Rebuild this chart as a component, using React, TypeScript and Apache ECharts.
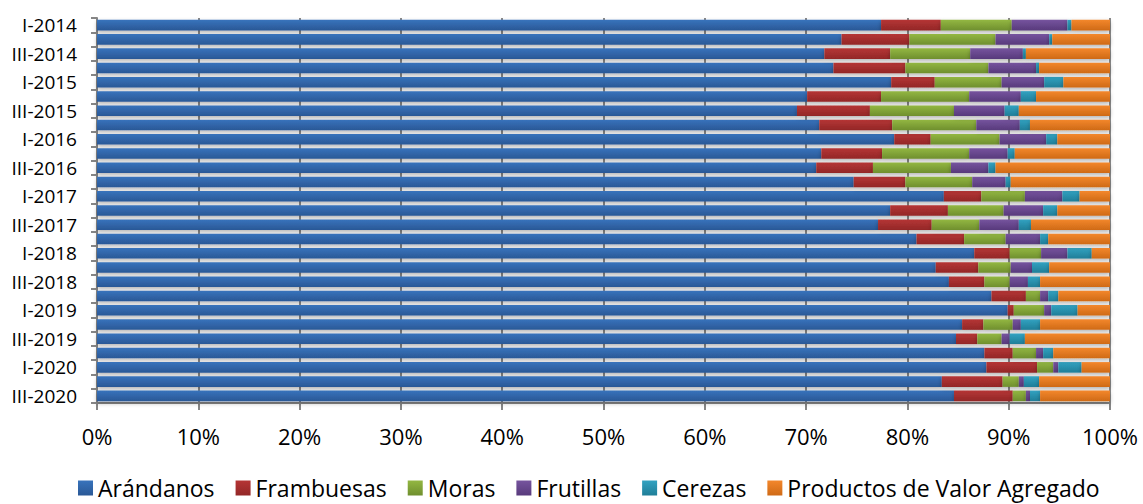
import React, { useEffect, useRef } from "react";
import * as echarts from "echarts";

const categories = [
  "I-2014", "II-2014", "III-2014", "IV-2014",
  "I-2015", "II-2015", "III-2015", "IV-2015",
  "I-2016", "II-2016", "III-2016", "IV-2016",
  "I-2017", "II-2017", "III-2017", "IV-2017",
  "I-2018", "II-2018", "III-2018", "IV-2018",
  "I-2019", "II-2019", "III-2019", "IV-2019",
  "I-2020", "II-2020", "III-2020",
];

const arandanos = [77.4, 73.5, 71.8, 72.7, 78.4, 70.1, 69.1, 71.3, 78.7, 71.5, 71.0, 74.7, 83.6, 78.3, 77.1, 80.9, 86.6, 82.8, 84.1, 88.3, 89.9, 85.4, 84.8, 87.6, 87.8, 83.4, 84.6];
const frambuesas = [5.9, 6.7, 6.5, 7.1, 4.3, 7.3, 7.2, 7.2, 3.6, 6.0, 5.6, 5.1, 3.7, 5.7, 5.3, 4.7, 3.5, 4.2, 3.5, 3.4, 0.6, 2.1, 2.1, 2.8, 5.0, 6.0, 5.8];
const moras = [7.0, 8.5, 7.9, 8.2, 6.6, 8.7, 8.3, 8.3, 6.8, 8.6, 7.7, 6.6, 4.3, 5.5, 4.7, 4.1, 3.1, 3.2, 2.5, 1.4, 3.0, 2.9, 2.4, 2.3, 1.6, 1.6, 1.3];
const frutillas = [5.5, 5.3, 5.2, 4.7, 4.2, 5.1, 5.0, 4.3, 4.6, 3.8, 3.7, 3.3, 3.7, 3.9, 3.9, 3.4, 2.6, 2.1, 1.8, 0.8, 0.7, 0.8, 0.8, 0.7, 0.5, 0.5, 0.4];
const cerezas = [0.4, 0.3, 0.3, 0.3, 1.9, 1.5, 1.4, 1.0, 1.1, 0.7, 0.7, 0.5, 1.7, 1.4, 1.2, 0.8, 2.4, 1.7, 1.2, 1.0, 2.6, 1.9, 1.5, 1.0, 2.3, 1.5, 1.0];
const productos = [3.8, 5.7, 8.3, 7.0, 4.6, 7.3, 9.0, 7.9, 5.2, 9.4, 11.3, 9.8, 3.0, 5.2, 7.8, 6.1, 1.8, 6.0, 6.9, 5.1, 3.2, 6.9, 8.4, 5.6, 2.8, 7.0, 6.9];

const seriesNames = ["Arándanos", "Frambuesas", "Moras", "Frutillas", "Cerezas", "Productos de Valor Agregado"];
const seriesData = [arandanos, frambuesas, moras, frutillas, cerezas, productos];
const seriesColors: [string, string][] = [
  ["#3873BC", "#2A5896"],
  ["#B53535", "#932727"],
  ["#93B742", "#6F8F2E"],
  ["#76549E", "#583A7C"],
  ["#32A2C1", "#207E98"],
  ["#F3872C", "#CF6A16"],
];

const FONT = "'Open Sans', sans-serif";

export default function App() {
  const ref = useRef<HTMLDivElement>(null);
  useEffect(() => {
    if (!ref.current) return;
    const chart = echarts.init(ref.current, null, { renderer: "svg" });
    const series = seriesNames.map((name, i) => ({
      name,
      type: "bar",
      stack: "total",
      barCategoryGap: "26%",
      data: seriesData[i],
      itemStyle: {
        color: new echarts.graphic.LinearGradient(0, 0, 0, 1, [
          { offset: 0, color: seriesColors[i][0] },
          { offset: 1, color: seriesColors[i][1] },
        ]),
        shadowColor: "rgba(0,0,0,0.3)",
        shadowBlur: 4,
        shadowOffsetY: 2,
      },
    }));
    chart.setOption({
      animation: false,
      backgroundColor: "#ffffff",
      grid: { left: 97, right: 33, top: 18, bottom: 101, containLabel: false },
      xAxis: {
        type: "value",
        min: 0,
        max: 100,
        interval: 10,
        axisLabel: {
          formatter: "{value}%",
          fontFamily: FONT,
          fontSize: 22,
          color: "#000",
          margin: 22,
        },
        axisLine: { show: true, lineStyle: { color: "#868686", width: 2 } },
        axisTick: { show: true, length: 7, lineStyle: { color: "#868686", width: 2 } },
        splitLine: { show: true, lineStyle: { color: "#8a8a8a", width: 2 } },
      },
      yAxis: {
        type: "category",
        inverse: true,
        data: categories,
        axisLabel: {
          interval: 1,
          fontFamily: FONT,
          fontSize: 19,
          color: "#000",
          margin: 20,
        },
        axisLine: { show: true, lineStyle: { color: "#868686", width: 2 } },
        axisTick: { show: true, interval: 0, length: 6, lineStyle: { color: "#868686", width: 2 } },
      },
      legend: {
        left: 73,
        top: 470,
        itemWidth: 15,
        itemHeight: 15,
        itemGap: 21,
        icon: "rect",
        textStyle: { fontFamily: FONT, fontSize: 23, color: "#000", lineHeight: 26 },
        data: seriesNames,
      },
      series,
    });
    return () => chart.dispose();
  }, []);
  return (
    <div
      ref={ref}
      style={{ position: "absolute", left: 0, top: 0, width: 1143, height: 504 }}
    />
  );
}
